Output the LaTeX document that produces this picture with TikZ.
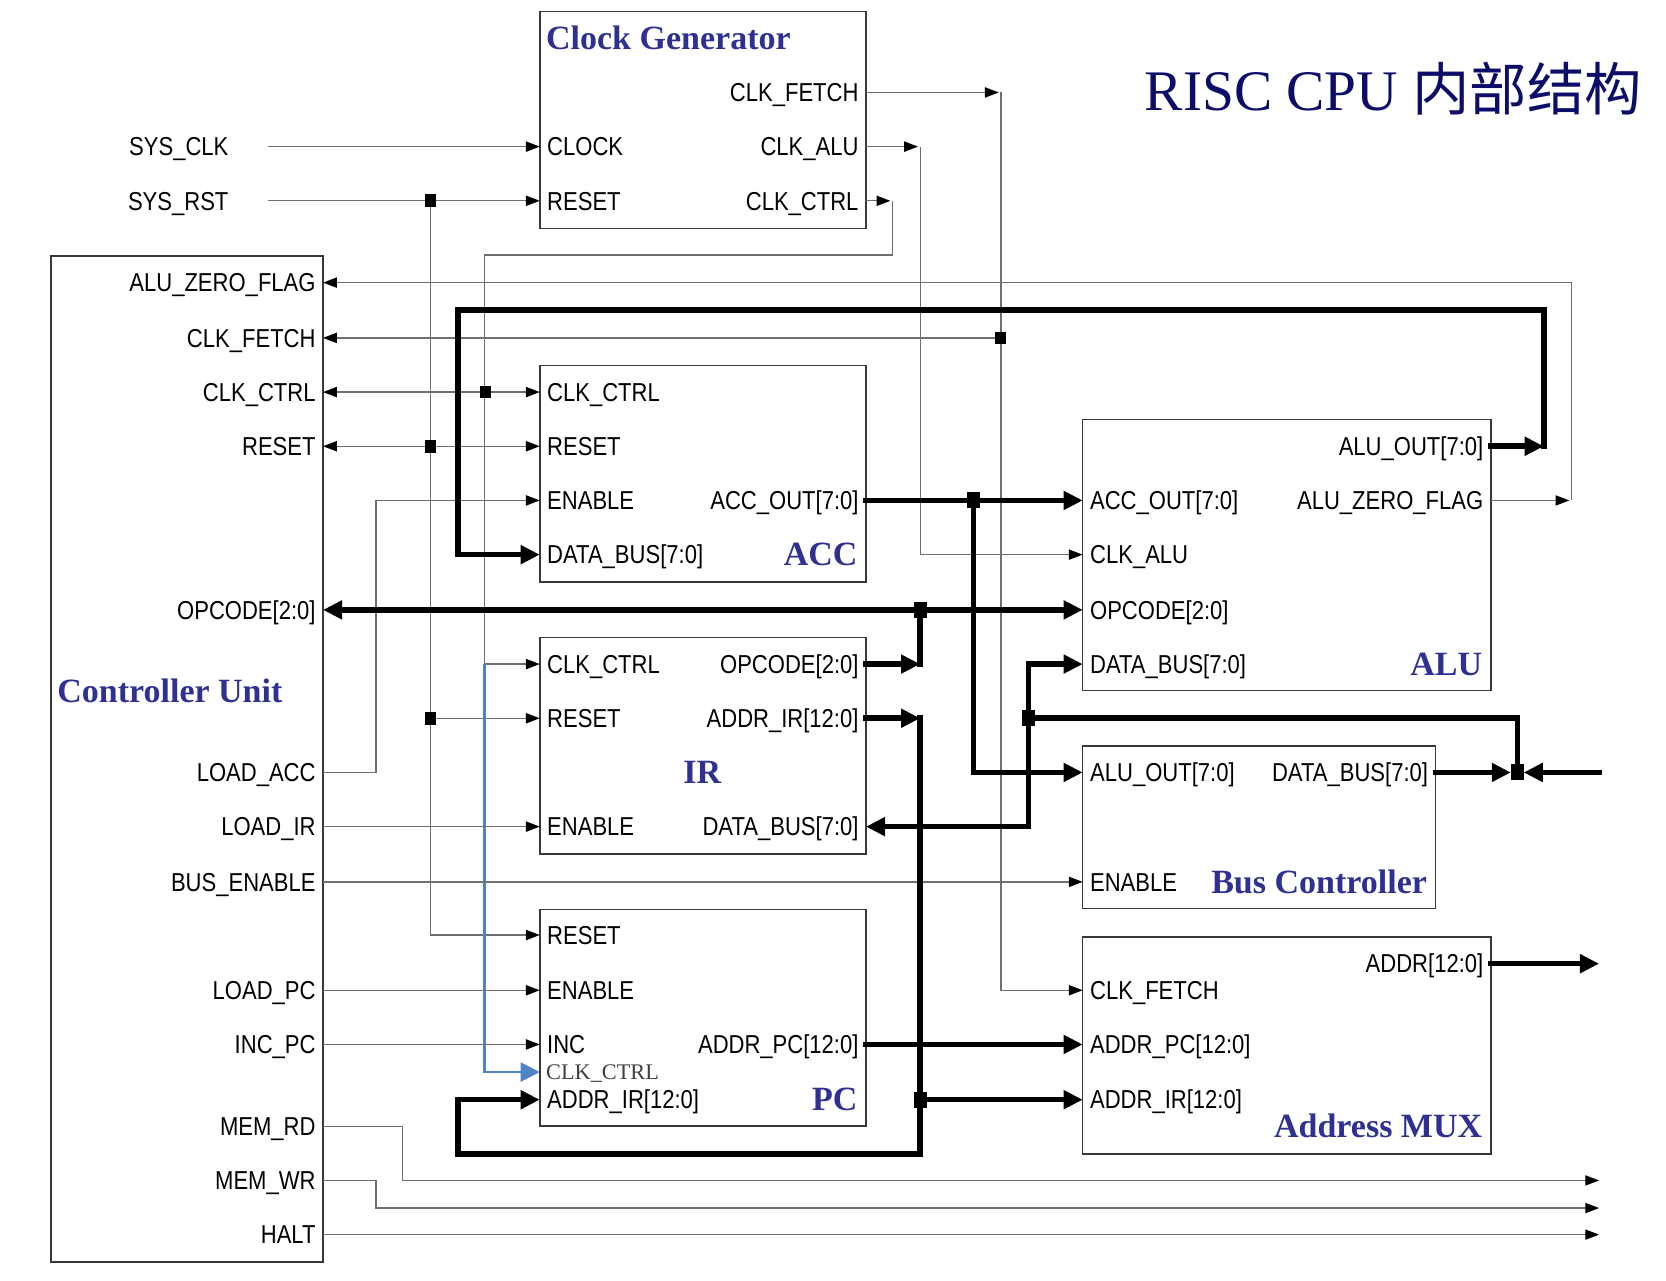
\documentclass[tikz,border=0pt]{standalone}
\usepackage{fontspec}
\usepackage{tikz}
\usetikzlibrary{arrows.meta}
\setmainfont{Liberation Serif}
\newfontfamily\pinfont[FakeStretch=0.85]{Liberation Sans}
\newfontfamily\cjkfont{Noto Sans CJK SC}
\definecolor{titleNavy}{RGB}{12,12,105}
\definecolor{blockBlue}{RGB}{46,49,146}
\definecolor{wireGray}{RGB}{112,112,112}
\definecolor{clkBlue}{RGB}{80,130,200}
\tikzset{
  thinTip/.tip={Triangle[length=6.5pt,width=4.8pt,color=black]},
  fatTip/.tip={Triangle[length=9pt,width=8.5pt]},
  blueTip/.tip={Triangle[length=9pt,width=9pt]},
}

\begin{document}
\begin{tikzpicture}[x=0.5pt,y=-0.5pt,
  blk/.style={draw=black!78,line width=0.75pt,inner sep=0pt,outer sep=0pt,anchor=north west},
  pinL/.style={anchor=west,inner xsep=3.5pt,inner ysep=0pt,outer sep=0pt,text height=8.7pt,text depth=0pt,font=\pinfont\fontsize{12.2}{13}\selectfont},
  pinR/.style={pinL,anchor=east},
  blkname/.style={text=blockBlue,inner sep=0pt,outer sep=0pt,text height=10.6pt,text depth=0pt,font=\bfseries\fontsize{16}{18}\selectfont},
  wire/.style={draw=wireGray,line width=0.6pt,>=thinTip},
  bus/.style={draw=black,line width=2.6pt,line cap=rect,>=fatTip},
  clkline/.style={draw=clkBlue,line width=1.1pt,>=blueTip},
  jn/.style={fill=black,inner sep=0pt,minimum width=5.2pt,minimum height=6pt},
  jnb/.style={fill=black,inner sep=0pt,minimum width=6pt,minimum height=7.5pt}]
\useasboundingbox (0,0) rectangle (1568,1205);

% title
\node[anchor=west,inner sep=0pt,text=titleNavy,text height=17.9pt,text depth=0pt,font=\fontsize{27}{30}\selectfont] (title) at (1077,86) {RISC CPU {\cjkfont 内部结构}};

% clock generator
\node[blk,minimum width=153.5pt,minimum height=102pt] (cg) at (508,11) {};
\node[blkname,anchor=west] (cg-name) at (514,36) {Clock Generator};
\node[pinR] (cg-fetch) at (815,87) {CLK\_FETCH};
\node[pinL] (cg-clk) at (508,138) {CLOCK};
\node[pinR] (cg-alu) at (815,138) {CLK\_ALU};
\node[pinL] (cg-rst) at (508,189) {RESET};
\node[pinR] (cg-ctrl) at (815,189) {CLK\_CTRL};
\node[pinR] (sysclk) at (222,138) {SYS\_CLK};
\node[pinR] (sysrst) at (222,189) {SYS\_RST};

% controller unit
\node[blk,minimum width=128pt,minimum height=473.5pt] (cu) at (48,241) {};
\node[blkname,anchor=west] (cu-name) at (54,651) {Controller Unit};
\foreach \n/\y/\t in {zero/266/ALU\_ZERO\_FLAG, fetch/318/CLK\_FETCH, ctrl/369/CLK\_CTRL,
    rst/420/RESET, op/574/OPCODE[2:0], lacc/727/LOAD\_ACC, lir/778/LOAD\_IR,
    ben/830/BUS\_ENABLE, lpc/932/LOAD\_PC, inc/983/INC\_PC, rd/1060/MEM\_RD,
    wr/1111/MEM\_WR, halt/1162/HALT}
  \node[pinR] (cu-\n) at (304,\y) {\t};

% ACC
\node[blk,minimum width=153.5pt,minimum height=102pt] (acc) at (508,344) {};
\node[blkname,anchor=east] (acc-name) at (807,522) {ACC};
\foreach \n/\y/\t in {clk/369/CLK\_CTRL, rst/420/RESET, en/471/ENABLE, data/522/DATA\_BUS[7:0]}
  \node[pinL] (acc-\n) at (508,\y) {\t};
\node[pinR] (acc-out) at (815,471) {ACC\_OUT[7:0]};

% ALU
\node[blk,minimum width=192pt,minimum height=127.5pt] (alu) at (1019,395) {};
\node[blkname,anchor=east] (alu-name) at (1395,625) {ALU};
\foreach \n/\y/\t in {acc/471/ACC\_OUT[7:0], clk/522/CLK\_ALU, op/574/OPCODE[2:0], data/625/DATA\_BUS[7:0]}
  \node[pinL] (alu-\n) at (1019,\y) {\t};
\node[pinR] (alu-out) at (1403,420) {ALU\_OUT[7:0]};
\node[pinR] (alu-zero) at (1403,471) {ALU\_ZERO\_FLAG};

% IR
\node[blk,minimum width=153.5pt,minimum height=102pt] (ir) at (508,600) {};
\node[blkname] (ir-name) at (661,727) {IR};
\foreach \n/\y/\t in {clk/625/CLK\_CTRL, rst/676/RESET, en/778/ENABLE}
  \node[pinL] (ir-\n) at (508,\y) {\t};
\foreach \n/\y/\t in {op/625/OPCODE[2:0], addr/676/ADDR\_IR[12:0], data/778/DATA\_BUS[7:0]}
  \node[pinR] (ir-\n) at (815,\y) {\t};

% bus controller
\node[blk,minimum width=166pt,minimum height=76.5pt] (bc) at (1019,702) {};
\node[blkname,anchor=east] (bc-name) at (1343,830) {Bus Controller};
\node[pinL] (bc-alu) at (1019,727) {ALU\_OUT[7:0]};
\node[pinL] (bc-en) at (1019,830) {ENABLE};
\node[pinR] (bc-data) at (1351,727) {DATA\_BUS[7:0]};

% PC
\node[blk,minimum width=153.5pt,minimum height=102pt] (pc) at (508,856) {};
\node[blkname,anchor=east] (pc-name) at (807,1035) {PC};
\foreach \n/\y/\t in {rst/880/RESET, en/932/ENABLE, inc/983/INC, addr/1035/ADDR\_IR[12:0]}
  \node[pinL] (pc-\n) at (508,\y) {\t};
\node[anchor=west,inner xsep=3pt,inner ysep=0pt,outer sep=0pt,text height=6.9pt,text depth=0pt,text=black!75,font=\fontsize{10.5}{12}\selectfont] (pc-clk) at (508,1009) {CLK\_CTRL};
\node[pinR] (pc-out) at (815,983) {ADDR\_PC[12:0]};

% address mux
\node[blk,minimum width=192pt,minimum height=102pt] (mux) at (1019,882) {};
\node[blkname,anchor=east] (mux-name) at (1395,1060) {Address MUX};
\foreach \n/\y/\t in {fetch/932/CLK\_FETCH, pc/983/ADDR\_PC[12:0], ir/1035/ADDR\_IR[12:0]}
  \node[pinL] (mux-\n) at (1019,\y) {\t};
\node[pinR] (mux-addr) at (1403,907) {ADDR[12:0]};

% loose ends on the right
\coordinate (addr-end) at (1505,907);
\coordinate (db-end) at (1505,727);
\coordinate (rd-end) at (1505,1111);
\coordinate (wr-end) at (1505,1137);
\coordinate (halt-end) at (1505,1162);

% thin control wires
\draw[wire,->] ([xshift=15pt]sysclk.east) -- (cg-clk.west);
\draw[wire,->] ([xshift=15pt]sysrst.east) -- (cg-rst.west);
\draw[wire,->] (405,189) |- (pc-rst.west);
\draw[wire,<->] (cu-rst.east) -- (acc-rst.west);
\draw[wire,->] (405,676) -- (ir-rst.west);
\draw[wire,->] (cg-fetch.east) -- (940,87);
\draw[wire,->] (942,87) |- (mux-fetch.west);
\draw[wire,->] (942,318) -- (cu-fetch.east);
\draw[wire,->] (cg-alu.east) -- (864,138);
\draw[wire,->] (866,138) |- (alu-clk.west);
\draw[wire,->] (cg-ctrl.east) -- (838,189);
\draw[wire,->] (840,189) |- (456,240) |- (ir-clk.west);
\draw[wire,<->] (cu-ctrl.east) -- (acc-clk.west);
\draw[clkline,->] (456,625) |- (pc-clk.west);
\draw[wire,->] (alu-zero.east) -- (1477,471);
\draw[wire,->] (1479,471) |- (cu-zero.east);
\draw[wire,->] (cu-lacc.east) -| (354,471) -- (acc-en.west);
\draw[wire,->] (cu-lir.east) -- (ir-en.west);
\draw[wire,->] (cu-ben.east) -- (bc-en.west);
\draw[wire,->] (cu-lpc.east) -- (pc-en.west);
\draw[wire,->] (cu-inc.east) -- (pc-inc.west);
\draw[wire,->] (cu-rd.east) -| (379,1111) -- (rd-end);
\draw[wire,->] (cu-wr.east) -| (354,1137) -- (wr-end);
\draw[wire,->] (cu-halt.east) -- (halt-end);

% buses
\draw[bus,->] (alu-out.east) -- (1453,420);
\draw[bus,->] (1453,420) |- (431,292) |- (acc-data.west);
\draw[bus,->] (acc-out.east) -- (alu-acc.west);
\draw[bus,->] (916,471) |- (bc-alu.west);
\draw[bus,<->] (cu-op.east) -- (alu-op.west);
\draw[bus,->] (ir-op.east) -- (866,625);
\draw[bus] (866,625) -- (866,574);
\draw[bus,->] (ir-addr.east) -- (866,676);
\draw[bus,->] (866,676) |- (431,1086) |- (pc-addr.west);
\draw[bus,->] (866,1035) -- (mux-ir.west);
\draw[bus,<->] (ir-data.east) -| (968,625) -- (alu-data.west);
\draw[bus] (968,676) -| (1428,727);
\draw[bus,->,shorten >=3pt] (bc-data.east) -- (1428,727);
\draw[bus,->,shorten >=3pt] (db-end) -- (1428,727);
\draw[bus,->] (pc-out.east) -- (mux-pc.west);
\draw[bus,->] (mux-addr.east) -- (addr-end);

% junctions
\node[jn] (j-rst1) at (405,189) {};
\node[jn] (j-rst2) at (405,420) {};
\node[jn] (j-rst3) at (405,676) {};
\node[jn] (j-ctrl) at (457,369) {};
\node[jn] (j-fetch) at (942,318) {};
\node[jnb] (j-acc) at (916,471) {};
\node[jnb] (j-op) at (866,574) {};
\node[jnb] (j-data) at (968,676) {};
\node[jnb] (j-bus) at (1428,727) {};
\node[jnb] (j-addr) at (866,1035) {};
\end{tikzpicture}
\end{document}
